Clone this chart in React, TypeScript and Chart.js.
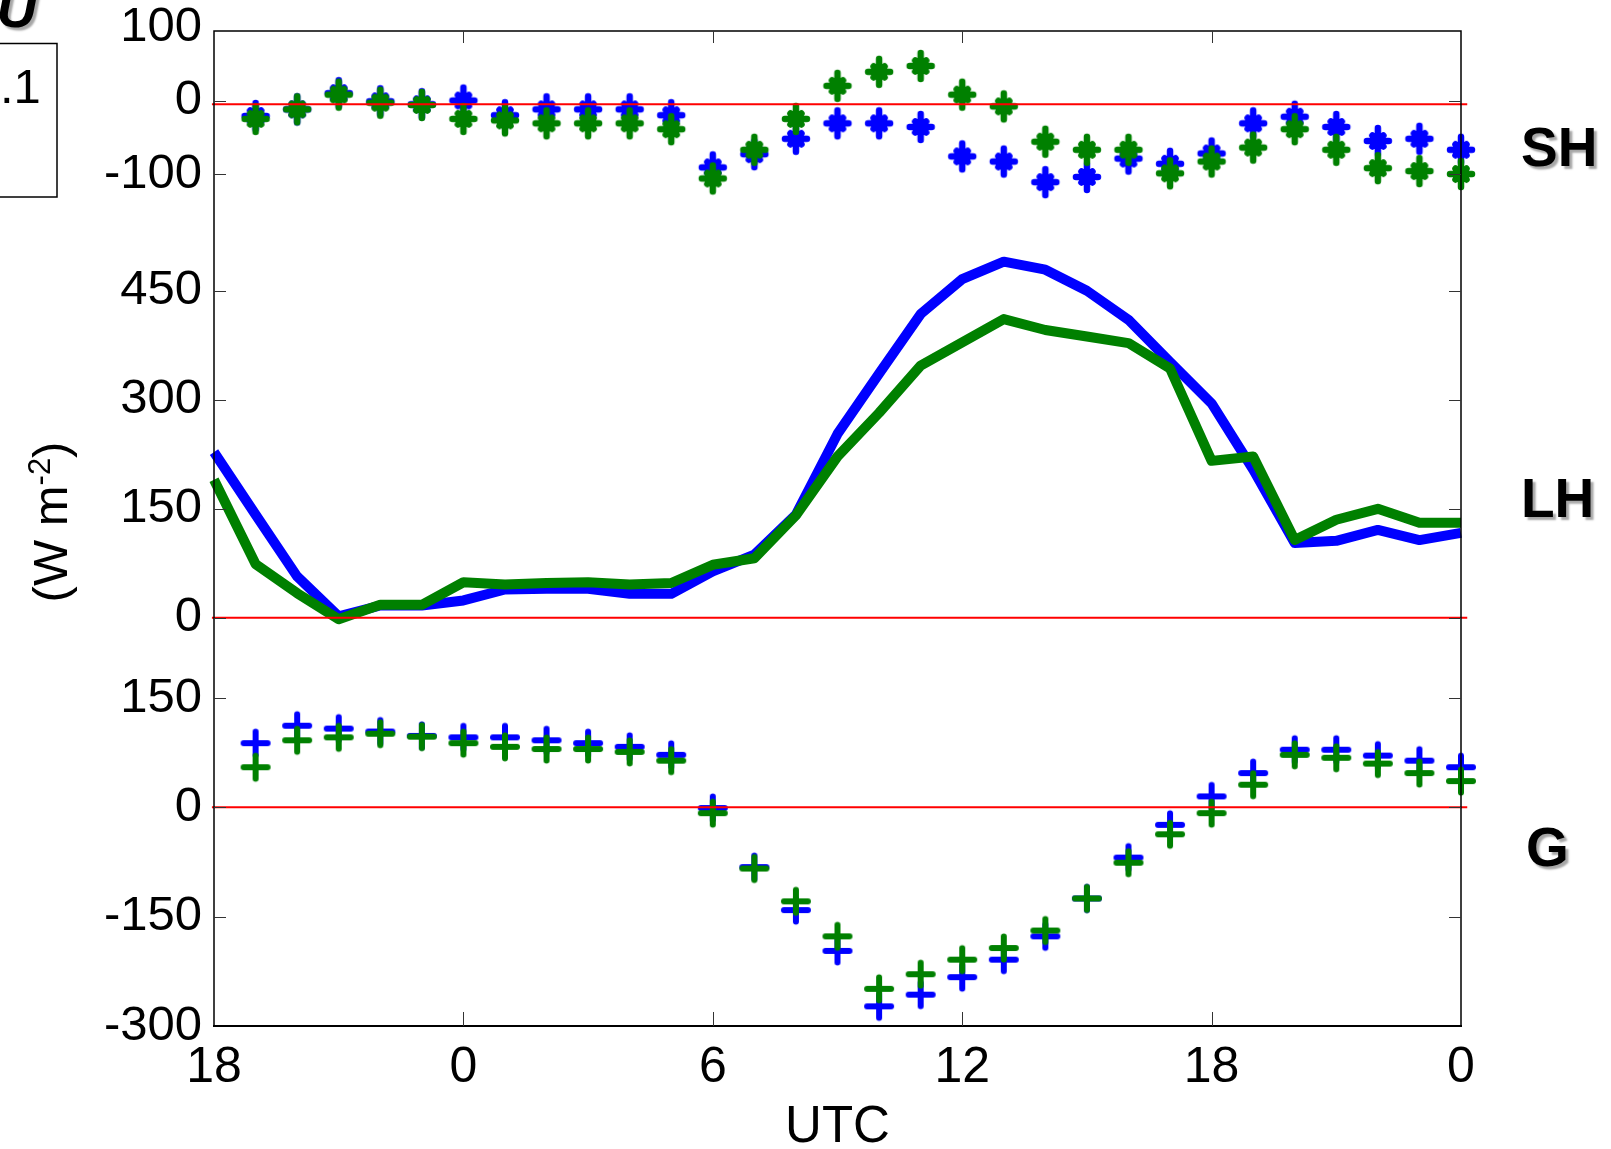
import React, { useEffect, useRef } from 'react';
import { Chart, registerables } from 'chart.js';

Chart.register(...registerables);

// Time axis: hours counted from 00 UTC of the first day (labels wrap every 24 h).
const HOURS_LH = [18, 19, 20, 21, 22, 23, 24, 25, 26, 27, 28, 29, 30, 31, 32, 33, 34, 35, 36, 37, 38, 39, 40, 41, 42, 43, 44, 45, 46, 47, 48];
const HOURS = [19, 20, 21, 22, 23, 24, 25, 26, 27, 28, 29, 30, 31, 32, 33, 34, 35, 36, 37, 38, 39, 40, 41, 42, 43, 44, 45, 46, 47, 48];
const X_TICKS = [18, 24, 30, 36, 42, 48];

// Sensible heat flux (W m-2)
const SH_BLUE = [-21, -12, 10, -1, -5, 0, -20, -12, -12, -12, -20, -91, -73, -52, -31, -31, -36, -76, -83, -111, -104, -79, -86, -72, -31, -22, -36, -55, -52, -67];
const SH_GREEN = [-25, -12, 8, -3, -6, -25, -27, -31, -31, -31, -39, -106, -67, -25, 20, 39, 47, 8, -8, -56, -67, -67, -99, -83, -64, -39, -67, -92, -96, -100];

// Latent heat flux (W m-2)
const LH_BLUE = [228, 142, 57, 2, 17, 17, 24, 39, 40, 40, 33, 33, 64, 87, 142, 253, 336, 418, 466, 490, 479, 450, 410, 352, 295, 204, 103, 106, 121, 107, 117];
const LH_GREEN = [190, 74, 34, -2, 18, 18, 49, 46, 48, 49, 46, 48, 73, 82, 141, 222, 282, 347, 379, 411, 396, 387, 378, 343, 216, 222, 107, 135, 150, 131, 131];

// Ground heat flux (W m-2)
const G_BLUE = [88, 112, 108, 104, 98, 96, 96, 92, 88, 83, 72, -1, -82, -141, -197, -273, -257, -233, -209, -177, -125, -69, -24, 15, 47, 79, 79, 71, 64, 55];
const G_GREEN = [55, 92, 96, 101, 97, 88, 83, 80, 80, 76, 64, -8, -84, -129, -177, -249, -229, -209, -193, -169, -125, -76, -37, -8, 31, 72, 68, 60, 47, 36];

// Reference lines
const REF_X = [17.95, 48.15];
const SH_REF = [-5, -5];
const LH_REF = [0, 0];
const G_REF = [0, 0];

// Panel ranges and tick values
const SH_RANGE = [-150, 100];
const LH_RANGE = [-20, 560];
const G_RANGE = [-300, 240];
const SH_TICKS = [-100, 0, 100];
const LH_TICKS = [0, 150, 300, 450];
const G_TICKS = [-300, -150, 0, 150];

const PANEL_NAMES = ['SH', 'LH', 'G'];
const Y_TITLE = ['(W m', '-2', ')'];
const X_TITLE = 'UTC';

const FONT = '"Liberation Sans", Arial, Helvetica, sans-serif';
const BLUE = '#0000ff';
const GREEN = '#008000';
const RED = '#ff0000';

function pts(xs: number[], ys: number[]) {
  return xs.map((x, i) => ({ x, y: ys[i] }));
}

function makeMarker(kind: 'star' | 'plus', color: string): HTMLCanvasElement {
  const c = document.createElement('canvas');
  const s = 38;
  c.width = s;
  c.height = s;
  const ctx = c.getContext('2d') as CanvasRenderingContext2D;
  const m = s / 2;
  ctx.strokeStyle = color;
  ctx.lineCap = 'round';
  ctx.beginPath();
  if (kind === 'star') {
    ctx.lineWidth = 6.5;
    ctx.moveTo(m, m - 13); ctx.lineTo(m, m + 13);
    ctx.moveTo(m - 11, m); ctx.lineTo(m + 11, m);
    ctx.moveTo(m - 5.5, m - 5.5); ctx.lineTo(m + 5.5, m + 5.5);
    ctx.moveTo(m - 5.5, m + 5.5); ctx.lineTo(m + 5.5, m - 5.5);
  } else {
    ctx.lineWidth = 6;
    ctx.moveTo(m, m - 11.5); ctx.lineTo(m, m + 11.5);
    ctx.moveTo(m - 12, m); ctx.lineTo(m + 12, m);
  }
  ctx.stroke();
  return c;
}

function yScale(range: number[], ticks: number[], weight: number, stackWeight: number) {
  return {
    type: 'linear',
    position: 'left',
    stack: 'flux',
    stackWeight,
    weight,
    min: range[0],
    max: range[1],
    afterBuildTicks: (s: any) => {
      s.ticks = ticks.map((v) => ({ value: v }));
    },
    afterFit: (s: any) => {
      s.width = 214;
      s.paddingTop = 0;
      s.paddingBottom = 0;
    },
    grid: { display: false, drawTicks: false },
    border: { display: false },
    ticks: {
      padding: 12,
      autoSkip: false,
      color: '#000',
      font: { family: FONT, size: 49, lineHeight: 1.2 },
    },
  };
}

const framePlugin = {
  id: 'fluxFrame',
  afterDatasetsDraw(chart: any) {
    const { ctx, chartArea: a, scales } = chart;
    const top = a.top + 4;
    ctx.save();
    // axes box
    ctx.strokeStyle = '#000';
    ctx.lineWidth = 1.5;
    ctx.beginPath();
    ctx.moveTo(a.left, a.bottom);
    ctx.lineTo(a.left, top);
    ctx.lineTo(a.right, top);
    ctx.lineTo(a.right, a.bottom);
    ctx.stroke();
    ctx.lineWidth = 2;
    ctx.beginPath();
    ctx.moveTo(a.left - 1, a.bottom);
    ctx.lineTo(a.right + 1, a.bottom);
    ctx.stroke();

    // inward tick marks
    ctx.strokeStyle = '#333';
    ctx.lineWidth = 1;
    ctx.beginPath();
    for (const id of ['ySH', 'yLH', 'yG']) {
      const sc = scales[id];
      for (const t of sc.ticks) {
        const py = Math.round(sc.getPixelForValue(t.value)) + 0.5;
        if (py < top + 1 || py > a.bottom - 1) continue;
        ctx.moveTo(a.left, py);
        ctx.lineTo(a.left + 12, py);
        ctx.moveTo(a.right, py);
        ctx.lineTo(a.right - 12, py);
      }
    }
    const xs = scales.x;
    for (const t of xs.ticks) {
      const px = Math.round(xs.getPixelForValue(t.value)) + 0.5;
      if (px < a.left + 2 || px > a.right - 2) continue;
      ctx.moveTo(px, a.bottom);
      ctx.lineTo(px, a.bottom - 14);
      ctx.moveTo(px, top);
      ctx.lineTo(px, top + 12);
    }
    ctx.stroke();
    ctx.restore();
  },
  afterDraw(chart: any) {
    const { ctx } = chart;
    ctx.save();
    ctx.fillStyle = '#000';
    ctx.textBaseline = 'alphabetic';

    // panel names with drop shadow
    ctx.shadowColor = 'rgba(0,0,0,0.35)';
    ctx.shadowOffsetX = 3;
    ctx.shadowOffsetY = 3;
    ctx.shadowBlur = 2;
    ctx.font = `bold 55px ${FONT}`;
    ctx.textAlign = 'left';
    ctx.fillText(PANEL_NAMES[0], 1521, 166);
    ctx.fillText(PANEL_NAMES[1], 1521, 517);
    ctx.fillText(PANEL_NAMES[2], 1526, 866);
    ctx.font = `italic bold 56px ${FONT}`;
    ctx.textAlign = 'right';
    ctx.fillText('U', 37, 27);
    ctx.shadowColor = 'rgba(0,0,0,0)';
    ctx.shadowOffsetX = 0;
    ctx.shadowOffsetY = 0;
    ctx.shadowBlur = 0;

    // legend box edge
    ctx.strokeStyle = '#000';
    ctx.lineWidth = 1.5;
    ctx.strokeRect(-5, 43.5, 62, 153.5);
    ctx.font = `49px ${FONT}`;
    ctx.textAlign = 'left';
    ctx.fillText('.1', 0, 103);

    // rotated y-axis title with superscript
    ctx.translate(67, 522);
    ctx.rotate(-Math.PI / 2);
    ctx.font = `49px ${FONT}`;
    const w1 = ctx.measureText(Y_TITLE[0]).width;
    const w3 = ctx.measureText(Y_TITLE[2]).width;
    ctx.font = `31px ${FONT}`;
    const w2 = ctx.measureText(Y_TITLE[1]).width;
    let x = -(w1 + w2 + w3) / 2;
    ctx.font = `49px ${FONT}`;
    ctx.fillText(Y_TITLE[0], x, 0);
    x += w1;
    ctx.font = `31px ${FONT}`;
    ctx.fillText(Y_TITLE[1], x, -17);
    x += w2;
    ctx.font = `49px ${FONT}`;
    ctx.fillText(Y_TITLE[2], x, 0);
    ctx.restore();
  },
};

export default function App() {
  const ref = useRef<HTMLCanvasElement | null>(null);

  useEffect(() => {
    const canvas = ref.current;
    if (!canvas) return;
    const starBlue = makeMarker('star', BLUE);
    const starGreen = makeMarker('star', GREEN);
    const plusBlue = makeMarker('plus', BLUE);
    const plusGreen = makeMarker('plus', GREEN);

    const refLine = (ys: number[], axis: string) => ({
      data: pts(REF_X, ys),
      yAxisID: axis,
      borderColor: RED,
      borderWidth: 2,
      pointRadius: 0,
      order: 0,
      clip: false,
    });
    const fluxLine = (ys: number[], color: string, order: number) => ({
      data: pts(HOURS_LH, ys),
      yAxisID: 'yLH',
      borderColor: color,
      borderWidth: 10,
      borderJoinStyle: 'round',
      pointRadius: 0,
      tension: 0,
      order,
      clip: false,
    });
    const markers = (ys: number[], axis: string, style: HTMLCanvasElement, order: number) => ({
      data: pts(HOURS, ys),
      yAxisID: axis,
      showLine: false,
      pointStyle: style,
      pointRadius: 14,
      borderColor: 'transparent',
      backgroundColor: 'transparent',
      order,
      clip: false,
    });

    const chart = new Chart(canvas, {
      type: 'line',
      data: {
        datasets: [
          refLine(SH_REF, 'ySH'),
          refLine(LH_REF, 'yLH'),
          refLine(G_REF, 'yG'),
          fluxLine(LH_GREEN, GREEN, 1),
          fluxLine(LH_BLUE, BLUE, 2),
          markers(SH_GREEN, 'ySH', starGreen, 1),
          markers(SH_BLUE, 'ySH', starBlue, 2),
          markers(G_GREEN, 'yG', plusGreen, 1),
          markers(G_BLUE, 'yG', plusBlue, 2),
        ] as any,
      },
      options: {
        responsive: false,
        animation: false,
        devicePixelRatio: 1,
        events: [],
        layout: { padding: { left: 0, right: 150, top: 27, bottom: 0 } },
        plugins: {
          legend: { display: false },
          tooltip: { enabled: false },
        },
        scales: {
          x: {
            type: 'linear',
            position: 'bottom',
            min: X_TICKS[0],
            max: X_TICKS[X_TICKS.length - 1],
            afterBuildTicks: (s: any) => {
              s.ticks = X_TICKS.map((v) => ({ value: v }));
            },
            afterFit: (s: any) => {
              s.height = 123;
              s.paddingLeft = 0;
              s.paddingRight = 0;
            },
            grid: { display: false, drawTicks: false },
            border: { display: false },
            ticks: {
              padding: 12,
              maxRotation: 0,
              autoSkip: false,
              color: '#000',
              font: { family: FONT, size: 50, lineHeight: 1.2 },
              callback: (v: any) => String(Number(v) % 24),
            },
            title: {
              display: true,
              text: X_TITLE,
              color: '#000',
              padding: 0,
              font: { family: FONT, size: 51, lineHeight: 0.82 },
            },
          },
          ySH: yScale(SH_RANGE, SH_TICKS, 3, 184),
          yLH: yScale(LH_RANGE, LH_TICKS, 2, 422),
          yG: yScale(G_RANGE, G_TICKS, 1, 394),
        } as any,
      },
      plugins: [framePlugin],
    } as any);

    return () => chart.destroy();
  }, []);

  return (
    <div style={{ position: 'fixed', left: 0, top: 0, width: 1611, height: 1149, background: '#fff' }}>
      <canvas ref={ref} width={1611} height={1149} style={{ display: 'block', width: 1611, height: 1149 }} />
    </div>
  );
}
